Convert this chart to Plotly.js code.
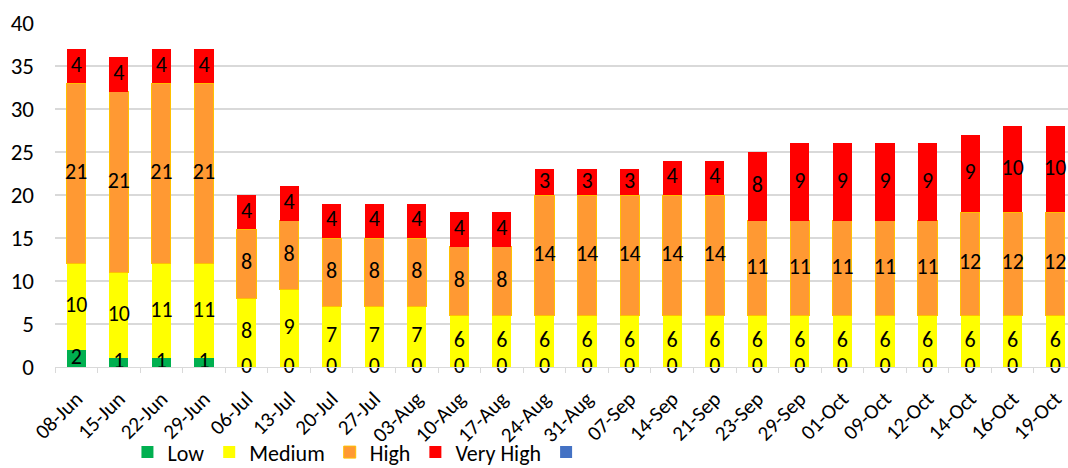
<!DOCTYPE html>
<html>
<head>
<meta charset="utf-8">
<script src="https://cdn.plot.ly/plotly-3.0.1.min.js"></script>
<style>html,body{margin:0;padding:0;background:#fff;}#chart{width:1068px;height:468px;}</style>
</head>
<body>
<div id="chart"></div>
<script>
const categories = ["08-Jun","15-Jun","22-Jun","29-Jun","06-Jul","13-Jul","20-Jul","27-Jul","03-Aug","10-Aug","17-Aug","24-Aug","31-Aug","07-Sep","14-Sep","21-Sep","23-Sep","29-Sep","01-Oct","09-Oct","12-Oct","14-Oct","16-Oct","19-Oct"];
const low      = [2,1,1,1,0,0,0,0,0,0,0,0,0,0,0,0,0,0,0,0,0,0,0,0];
const medium   = [10,10,11,11,8,9,7,7,7,6,6,6,6,6,6,6,6,6,6,6,6,6,6,6];
const high     = [21,21,21,21,8,8,8,8,8,8,8,14,14,14,14,14,11,11,11,11,11,12,12,12];
const veryHigh = [4,4,4,4,4,4,4,4,4,4,4,3,3,3,4,4,8,9,9,9,9,9,10,10];

const seriesNames = ["Low","Medium","High","Very High"];
const seriesData = [low, medium, high, veryHigh];
const colors = ["#00B050","#FFFF00","#FF9933","#FF0000"];
const lineColors = ["#00B050","#FFFF00","#FFC000","#FF0000"];
const FONT = "Carlito, Calibri, Lato, sans-serif";

const traces = [];
seriesData.forEach((vals, i) => {
  traces.push({
    type: "bar", name: seriesNames[i], x: categories, y: vals,
    marker: {color: colors[i], line: {color: lineColors[i], width: i === 2 ? 1 : 0}},
    hoverinfo: "skip"
  });
});
traces.push({type: "bar", name: " ", x: categories, y: categories.map(() => null),
  marker: {color: "#4472C4"}, hoverinfo: "skip"});

// data labels at the centre of each stacked segment
const base = categories.map(() => 0);
seriesData.forEach((vals) => {
  const ys = vals.map((v, j) => base[j] + v / 2);
  vals.forEach((v, j) => { base[j] += v; });
  traces.push({
    type: "scatter", mode: "text", x: categories, y: ys,
    text: vals.map(String), textposition: "middle center",
    textfont: {family: FONT, size: 22, color: "#000"},
    showlegend: false, hoverinfo: "skip", cliponaxis: false
  });
});

const layout = {
  width: 1068, height: 468,
  margin: {l: 55, r: 0, t: 23, b: 101, autoexpand: false},
  barmode: "stack", bargap: 0.55,
  paper_bgcolor: "#fff", plot_bgcolor: "#fff",
  font: {family: FONT, size: 22, color: "#000"},
  hovermode: false,
  xaxis: {
    type: "category", range: [-0.5, 23.3], automargin: false,
    tickangle: -45, tickfont: {family: FONT, size: 21, color: "#000"},
    showline: true, linecolor: "#D9D9D9", linewidth: 1.3,
    ticks: "outside", tickson: "boundaries", ticklen: 5, tickcolor: "#D9D9D9",
    showgrid: false, ticklabelstandoff: 10
  },
  yaxis: {
    range: [0, 40], dtick: 5, tick0: 0, automargin: false,
    showgrid: true, gridcolor: "#D9D9D9", gridwidth: 1.3,
    zeroline: false, showline: false,
    tickfont: {family: FONT, size: 23, color: "#000"},
    ticklabelstandoff: 20
  },
  legend: {
    orientation: "h", x: 0.303, xanchor: "center", y: -0.248, yanchor: "middle",
    font: {family: FONT, size: 22, color: "#000"},
    traceorder: "normal", itemclick: false, itemdoubleclick: false,
    bgcolor: "rgba(0,0,0,0)", itemwidth: 30, tracegroupgap: 0
  },
  showlegend: true
};

Plotly.newPlot("chart", traces, layout, {displayModeBar: false, staticPlot: true});
</script>
</body>
</html>
